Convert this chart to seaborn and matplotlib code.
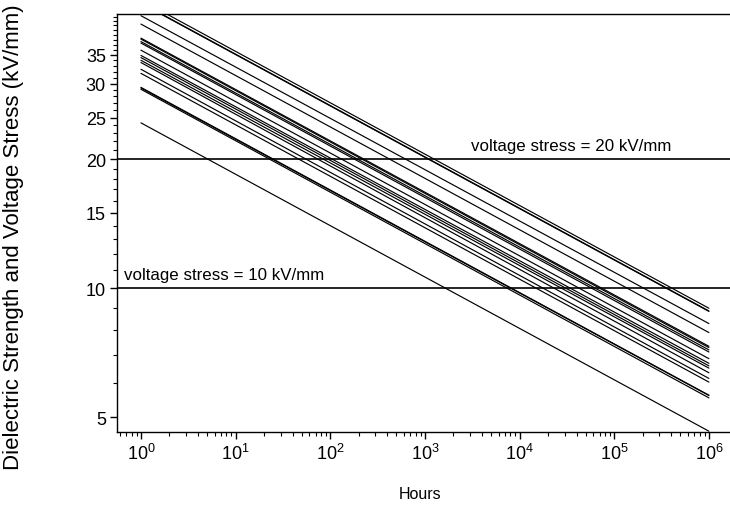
import numpy as np
import pandas as pd
import matplotlib
matplotlib.use("Agg")
import matplotlib.pyplot as plt
import matplotlib.ticker as mticker
import seaborn as sns

# Hours at which each fitted strength line starts and ends
hours_start = 1
hours_end = 1e6

# Dielectric strength (kV/mm) of each specimen line at 1 h and at 1e6 h
strength_1h = [47.0, 46.3, 46.2, 43.2, 41.3, 38.3, 38.1, 37.6, 37.3, 35.9,
               34.9, 34.5, 34.0, 33.6, 32.4, 31.7, 29.4, 29.3, 29.1, 24.3]
strength_1e6h = [8.98, 8.85, 8.83, 8.27, 7.88, 7.32, 7.27, 7.18, 7.10, 6.85,
                 6.68, 6.59, 6.51, 6.35, 6.16, 6.04, 5.63, 5.62, 5.55, 4.64]

stress_levels = [20, 10]
stress_labels = ["voltage stress = 20 kV/mm", "voltage stress = 10 kV/mm"]

y_ticks = [5, 10, 15, 20, 25, 30, 35]
x_ticks = [1e0, 1e1, 1e2, 1e3, 1e4, 1e5, 1e6]
x_tick_labels = [r"$10^{0}$", r"$10^{1}$", r"$10^{2}$", r"$10^{3}$",
                 r"$10^{4}$", r"$10^{5}$", r"$10^{6}$"]

rows = []
for i, (a, b) in enumerate(zip(strength_1h, strength_1e6h)):
    rows.append({"line": i, "Hours": hours_start, "strength": a})
    rows.append({"line": i, "Hours": hours_end, "strength": b})
df = pd.DataFrame(rows)

sns.set_theme(style="ticks")
plt.rcParams["font.family"] = ["Liberation Sans", "DejaVu Sans"]
plt.rcParams["mathtext.fontset"] = "custom"
plt.rcParams["mathtext.rm"] = "Liberation Sans"
plt.rcParams["mathtext.it"] = "Liberation Sans:italic"
plt.rcParams["text.color"] = "black"
plt.rcParams["axes.labelcolor"] = "black"
plt.rcParams["xtick.color"] = "black"
plt.rcParams["ytick.color"] = "black"
plt.rcParams["xtick.labelcolor"] = "black"
plt.rcParams["ytick.labelcolor"] = "black"

fig = plt.figure(figsize=(7.3, 5.1), dpi=100)
ax = fig.add_axes([117 / 730, 1 - 433 / 510, 1 - 117 / 730 + 0.01, (433 - 15) / 510])

sns.lineplot(data=df, x="Hours", y="strength", units="line", estimator=None,
             color="black", linewidth=0.85, ax=ax, legend=False)

for lvl in stress_levels:
    ax.axhline(lvl, color="black", linewidth=1.2)

ax.set_xscale("log")
ax.set_yscale("log")
ax.set_xlim(10 ** -0.253, 10 ** 6.3)
ax.set_ylim(4.62, 43.6)

ax.text(10 ** 3.49, 20 * 1.035, stress_labels[0], fontsize=12.2, ha="left", va="bottom", color="black")
ax.text(10 ** -0.18, 10 * 1.035, stress_labels[1], fontsize=12.2, ha="left", va="bottom", color="black")

ax.set_xticks(x_ticks)
ax.set_xticklabels(x_tick_labels)
minor_x = [m * 10 ** d for d in range(-1, 6) for m in range(2, 10)]
minor_x = [v for v in minor_x if 10 ** -0.253 <= v <= 1e6]
ax.xaxis.set_minor_locator(mticker.FixedLocator(minor_x))
ax.xaxis.set_minor_formatter(mticker.NullFormatter())

ax.set_yticks(y_ticks)
ax.set_yticklabels([str(v) for v in y_ticks])
minor_y = [v for v in range(5, 44) if v not in y_ticks]
ax.yaxis.set_minor_locator(mticker.FixedLocator(minor_y))
ax.yaxis.set_minor_formatter(mticker.NullFormatter())

ax.tick_params(axis="both", which="major", length=5, width=1, labelsize=13,
               color="black", labelcolor="black", pad=3)
ax.tick_params(axis="both", which="minor", length=3, width=0.8, color="black")

for s in ["left", "bottom", "top"]:
    ax.spines[s].set_color("black")
    ax.spines[s].set_linewidth(1.0)
ax.spines["right"].set_visible(False)

ax.set_xlabel("Hours", fontsize=11.5, color="black")
ax.xaxis.set_label_coords(0.488, -0.129)
ax.set_ylabel("Dielectric Strength and Voltage Stress (kV/mm)", fontsize=16, color="black")
ax.yaxis.set_label_coords(-0.150, 0.469)

fig.savefig("out.png", dpi=100)
